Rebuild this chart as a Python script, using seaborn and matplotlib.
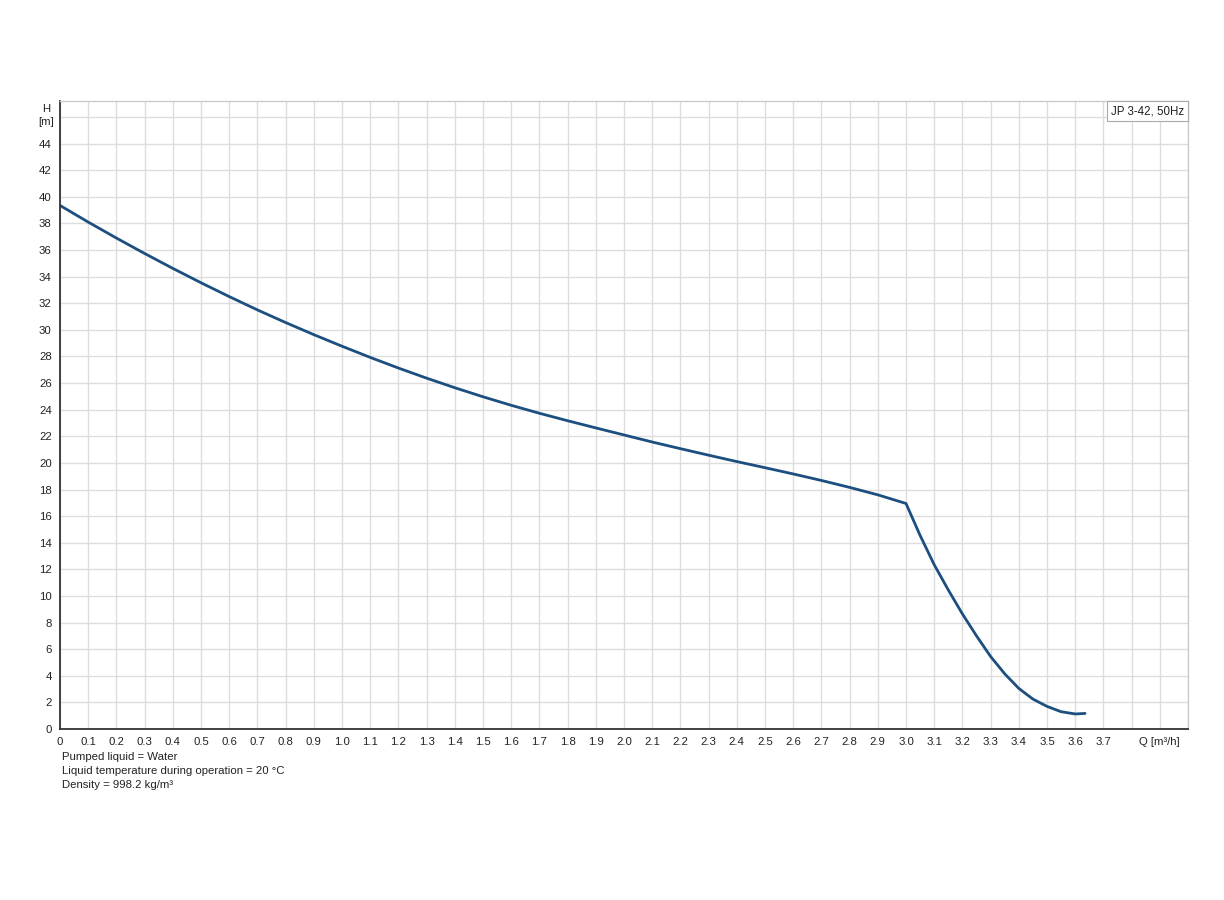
import matplotlib
matplotlib.use("Agg")
import matplotlib.pyplot as plt
from matplotlib.offsetbox import AnchoredText
import seaborn as sns
import pandas as pd

# Data
flow_q = [0.0, 0.1, 0.2, 0.3, 0.4, 0.5, 0.6, 0.7, 0.8, 0.9, 1.0,
          1.1, 1.2, 1.3, 1.4, 1.5, 1.6, 1.7, 1.8, 1.9, 2.0,
          2.1, 2.2, 2.3, 2.4, 2.5, 2.6, 2.7, 2.8, 2.9, 3.0,
          3.05, 3.1, 3.15, 3.2, 3.25, 3.3, 3.35, 3.4, 3.45, 3.5, 3.55, 3.6, 3.635]
head_h = [39.35, 38.1, 36.9, 35.74, 34.62, 33.54, 32.5, 31.5, 30.55, 29.64, 28.77,
          27.93, 27.13, 26.37, 25.65, 24.97, 24.33, 23.73, 23.17, 22.63, 22.1,
          21.57, 21.07, 20.58, 20.1, 19.64, 19.17, 18.68, 18.16, 17.6, 16.95,
          14.55, 12.35, 10.45, 8.65, 7.0, 5.45, 4.15, 3.05, 2.25, 1.7, 1.3, 1.13, 1.17]

x_tick_values = [round(0.1 * i, 1) for i in range(41)]
x_tick_labels = ["0"] + [f"{0.1 * i:.1f}" for i in range(1, 38)] + ["", "Q [m³/h]", ""]
y_tick_values = list(range(0, 47, 2))
y_tick_labels = [str(v) for v in range(0, 45, 2)] + [""]

legend_label = "JP 3-42, 50Hz"
notes = ["Pumped liquid = Water",
         "Liquid temperature during operation = 20 °C",
         "Density = 998.2 kg/m³"]

sns.set_style("white")
plt.rcParams["font.family"] = ["Liberation Sans", "DejaVu Sans"]

fig = plt.figure(figsize=(12.24, 9.0), dpi=100)
ax = fig.add_axes([60 / 1224, 1 - 729 / 900, (1188 - 60) / 1224, (729 - 101) / 900])

df = pd.DataFrame({"Q": flow_q, "H": head_h})
sns.lineplot(data=df, x="Q", y="H", ax=ax, color="#1c4f7f", linewidth=2.0,
             sort=False, estimator=None)

ax.set_xlim(0, 4.0)
ax.set_ylim(0, 47.2)
ax.set_xticks(x_tick_values)
ax.set_xticklabels(x_tick_labels, fontsize=8.2, color="#222222")
ax.set_yticks(y_tick_values)
ax.set_yticklabels(y_tick_labels, fontsize=8.2, color="#222222")
ax.set_xlabel("")
ax.set_ylabel("")

ax.grid(True, color="#dddddd", linewidth=1.0)
ax.set_axisbelow(True)
ax.tick_params(axis="both", direction="out", length=4, width=1, color="#333333", pad=2)

for side in ["left", "bottom"]:
    ax.spines[side].set_color("#333333")
    ax.spines[side].set_linewidth(1.3)
for side in ["top", "right"]:
    ax.spines[side].set_color("#cccccc")
    ax.spines[side].set_linewidth(1.0)

# Y axis title (H [m]) at the top left
ax.text(-0.012, 46.6, "H", transform=ax.get_yaxis_transform(), ha="center",
        va="center", fontsize=8.2, color="#222222")
ax.text(-0.012, 45.6, "[m]", transform=ax.get_yaxis_transform(), ha="center",
        va="center", fontsize=8.2, color="#222222")

# Legend-like box
at = AnchoredText(legend_label, loc="upper right", prop=dict(size=8.3, color="#222222"),
                  frameon=True, borderpad=0.0, pad=0.35)
at.patch.set_edgecolor("#aaaaaa")
at.patch.set_linewidth(0.8)
ax.add_artist(at)

# Notes below the chart
for i, line in enumerate(notes):
    fig.text(62 / 1224, 1 - (757 + 14 * i) / 900, line, fontsize=8.2,
             color="#222222", ha="left", va="center")

fig.savefig("out.png", dpi=100, facecolor="white")
